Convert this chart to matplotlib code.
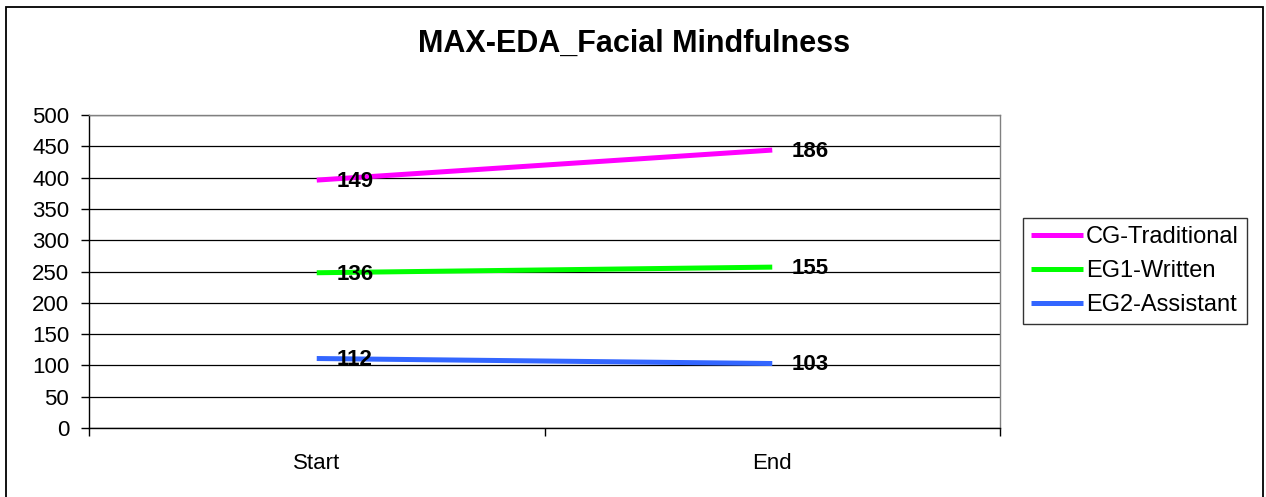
import matplotlib
matplotlib.use("Agg")
import matplotlib.pyplot as plt
from matplotlib.patches import Rectangle

plt.rcParams['font.family'] = ['Liberation Sans', 'DejaVu Sans']

categories = ["Start", "End"]
series_names = ["CG-Traditional", "EG1-Written", "EG2-Assistant"]
cg_values = [396, 444]
eg1_values = [248, 257]
eg2_values = [111, 103]
# data labels printed next to the points
cg_labels = ["149", "186"]
eg1_labels = ["136", "155"]
eg2_labels = ["112", "103"]
colors = ["#FF00FF", "#00FF00", "#3366FF"]

W, H = 1266, 497
fig = plt.figure(figsize=(W / 100, H / 100), dpi=100)
# chart frame (runs off the bottom edge)
fig.patches.append(Rectangle((6 / W, -10 / H), 1257 / W, (H - 7 + 10) / H,
                             transform=fig.transFigure, fill=False,
                             edgecolor="black", linewidth=1.3))

ax = fig.add_axes([89 / W, 1 - 428 / H, 911 / W, 313 / H])
xs = [0.5, 1.5]

all_values = [cg_values, eg1_values, eg2_values]
all_labels = [cg_labels, eg1_labels, eg2_labels]
for name, vals, labs, col in zip(series_names, all_values, all_labels, colors):
    ax.plot(xs, vals, color=col, linewidth=3.6, label=name, solid_capstyle="butt", zorder=3)
    for x, v, t in zip(xs, vals, labs):
        ax.annotate(t, (x, v), textcoords="offset points", xytext=(14, -1),
                    ha="left", va="center", fontsize=16, fontweight="bold", zorder=4)

ax.set_xlim(0, 2)
ax.set_ylim(0, 500)
ax.set_yticks(range(0, 501, 50))
ax.set_xticks([0, 1, 2])
ax.set_xticklabels([])
ax.set_xticks(xs, minor=True)
ax.set_xticklabels(categories, minor=True)
ax.tick_params(axis="x", which="minor", length=0, pad=18, labelsize=16)
ax.tick_params(axis="x", which="major", length=5.8, width=1, direction="out")
ax.tick_params(axis="y", length=5.8, width=1, direction="out", pad=8.5, labelsize=16)
ax.yaxis.grid(True, color="black", linewidth=0.9, zorder=1)
ax.set_axisbelow(True)

for side in ["top", "right"]:
    ax.spines[side].set_color("#808080")
    ax.spines[side].set_linewidth(1.0)
for side in ["left", "bottom"]:
    ax.spines[side].set_color("black")
    ax.spines[side].set_linewidth(1.0)

fig.text(634 / W, 1 - 44 / H, "MAX-EDA_Facial Mindfulness", ha="center", va="center",
         fontsize=22, fontweight="bold")

leg = fig.legend(loc="center left", bbox_to_anchor=(1023 / W, 1 - 271 / H),
                 fontsize=17, frameon=True, fancybox=False, handlelength=2.2,
                 handletextpad=0.12, borderpad=0.35, labelspacing=0.5, borderaxespad=0)
leg.get_frame().set_edgecolor("black")
leg.get_frame().set_linewidth(1.0)

fig.savefig("out.png", dpi=100)
